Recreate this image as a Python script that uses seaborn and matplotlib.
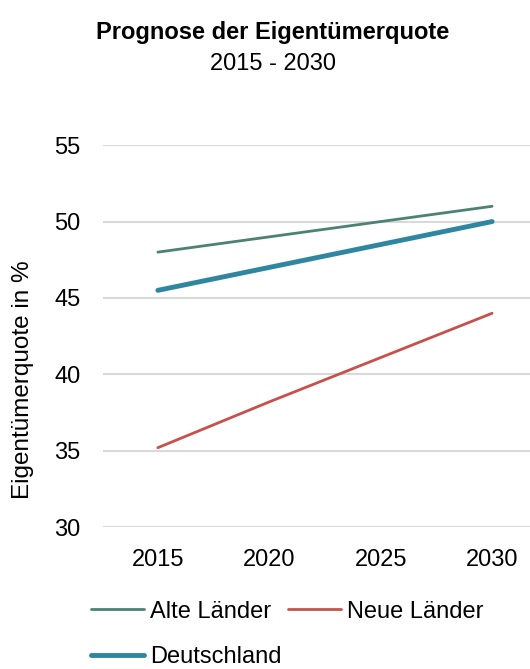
import numpy as np
import pandas as pd
import matplotlib.pyplot as plt
import seaborn as sns

jahre = [2015, 2020, 2025, 2030]
alte_laender = [48.0, 49.0, 50.0, 51.0]
neue_laender = [35.2, 38.2, 41.1, 44.0]
deutschland = [45.5, 47.0, 48.5, 50.0]
reihen = ["Alte Länder", "Neue Länder", "Deutschland"]

dat = pd.DataFrame({
    "Jahr": jahre * 3,
    "Quote": alte_laender + neue_laender + deutschland,
    "Reihe": np.repeat(reihen, len(jahre)),
})

sns.set_style("white")
plt.rcParams['font.family'] = ['Liberation Sans', 'DejaVu Sans']
plt.rcParams['text.color'] = 'black'
plt.rcParams['xtick.color'] = 'black'
plt.rcParams['ytick.color'] = 'black'
plt.rcParams['axes.labelcolor'] = 'black'

farben = {"Alte Länder": "#4d8272", "Neue Länder": "#c8504b", "Deutschland": "#2f86a0"}
breiten = {"Alte Länder": 2.0, "Neue Länder": 2.0, "Deutschland": 3.5}

fig = plt.figure(figsize=(5.3, 6.69), dpi=100)
ax = fig.add_axes([0.194, 0.212, 0.806, 0.571])
sns.lineplot(data=dat, x="Jahr", y="Quote", hue="Reihe", size="Reihe",
             palette=farben, sizes=breiten, ax=ax, legend=False)

ax.set_ylim(30, 55)
ax.set_xlim(2012.53, 2031.7)
ax.set_yticks([30, 35, 40, 45, 50, 55])
ax.set_xticks(jahre)
ax.yaxis.grid(True, color="#d9d9d9", linewidth=1.5)
ax.set_axisbelow(True)
sns.despine(ax=ax, left=True, bottom=True, right=True, top=True)
ax.tick_params(axis="both", length=0, labelsize=17)
ax.tick_params(axis="x", pad=16)
ax.tick_params(axis="y", pad=16)
ax.set_xlabel("")
ax.set_ylabel("Eigentümerquote in %", fontsize=17.5)
ax.yaxis.set_label_coords(-0.16, 0.385)

fig.text(0.515, 0.952, "Prognose der Eigentümerquote", ha="center", va="center",
         fontsize=17, fontweight="bold")
fig.text(0.515, 0.905, "2015 - 2030", ha="center", va="center", fontsize=17)

# Spaltenweise Reihenfolge, damit Zeile 1: Alte/Neue, Zeile 2: Deutschland
reihenfolge = ["Alte Länder", "Deutschland", "Neue Länder"]
handles = [plt.Line2D([], [], color=farben[r], linewidth=breiten[r]) for r in reihenfolge]
fig.legend(handles, reihenfolge, ncol=2, loc="upper left", bbox_to_anchor=(0.172, 0.102),
           frameon=False, fontsize=17, handlelength=2.25, handletextpad=0.25,
           columnspacing=0.25, labelspacing=1.0, borderaxespad=0, borderpad=0)

fig.savefig("out.png", dpi=100)
